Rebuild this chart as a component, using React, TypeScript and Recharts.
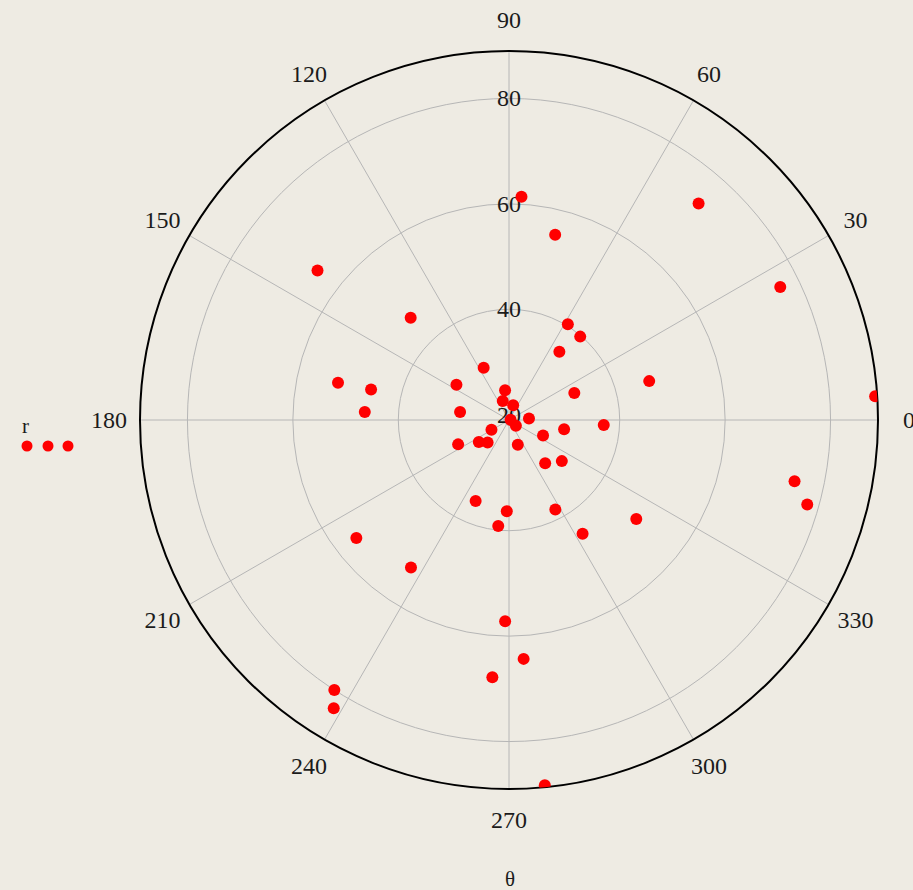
import React from 'react';
import { RadarChart, Radar, PolarGrid, PolarAngleAxis, PolarRadiusAxis } from 'recharts';

// angle (degrees, counter-clockwise from +x) of each point
const thetaDeg = [
  86.8, 48.8, 76.0, 26.1, 142.0, 133.9, 58.4, 49.5, 53.6, 167.7,
  167.5, 176.8, 15.5, 22.4, 146.2, 115.9, 3.7, 170.8, 97.5, 108.2,
  74.1, 4.5, 10.0, 320.2, 357.0, 350.4, 335.5, 205.6, 216.2, 226.5,
  208.9, 289.5, 309.9, 322.1, 347.9, 344.2, 247.6, 268.6, 264.2, 297.4,
  302.9, 322.1, 217.7, 236.4, 268.9, 273.5, 266.3, 237.1, 238.7, 275.6,
];

// radius of each point
const rValues = [
  61.4, 73.6, 55.2, 76.3, 65.1, 45.9, 40.3, 39.8, 35.1, 52.2,
  45.8, 46.4, 46.6, 32.4, 31.0, 30.0, 88.6, 28.4, 24.7, 22.8,
  21.9, 22.8, 19.3, 20.7, 37.0, 29.6, 26.1, 29.7, 26.1, 24.9,
  22.8, 24.0, 29.7, 31.7, 74.4, 77.8, 35.6, 36.3, 39.2, 38.1,
  44.7, 49.6, 55.6, 52.6, 57.2, 64.4, 67.9, 80.0, 83.0, 88.6,
];

const angleTicks = [0, 30, 60, 90, 120, 150, 180, 210, 240, 270, 300, 330];
const radiusTicks = [20, 40, 60, 80];
const radiusDomain: [number, number] = [19.2, 88.6];

const data = thetaDeg.map((t, i) => ({ theta: t, r: rValues[i] }));

const FONT = '"Liberation Serif", "Times New Roman", serif';
const BG = '#EEEBE3';
const CX = 509;
const CY = 420;
const OUTER = 369;

const AngleTick = (props: any) => {
  const { x, y, payload } = props;
  return (
    <text x={x} y={y} textAnchor="middle" dominantBaseline="central" fontFamily={FONT} fontSize={24} fill="#1b1b1b">
      {payload.value}
    </text>
  );
};

const RadiusTick = (props: any) => {
  const { x, y, payload } = props;
  return (
    <text x={x} y={y} textAnchor="middle" dominantBaseline="central" fontFamily={FONT} fontSize={24} fill="#1b1b1b">
      {payload.value}
    </text>
  );
};

const ClippedDot = (props: any) => {
  const { cx, cy, index } = props;
  if (cx == null || cy == null) return <g key={`d-${index}`} />;
  return <circle key={`d-${index}`} cx={cx} cy={cy} r={6} fill="#FF0000" clipPath="url(#polarPlotClip)" />;
};

export default function App() {
  return (
    <div style={{ position: 'absolute', left: 0, top: 0, width: 913, height: 890, background: BG, overflow: 'hidden' }}>
      <svg width={0} height={0} style={{ position: 'absolute' }}>
        <defs>
          <clipPath id="polarPlotClip" clipPathUnits="userSpaceOnUse">
            <circle cx={CX} cy={CY} r={OUTER} />
          </clipPath>
        </defs>
      </svg>
      <RadarChart
        width={913}
        height={890}
        data={data}
        cx={CX}
        cy={CY}
        outerRadius={OUTER}
        innerRadius={0}
        startAngle={0}
        endAngle={360}
        margin={{ top: 0, right: 0, bottom: 0, left: 0 }}
      >
        <PolarGrid gridType="circle" stroke="#B6B6B6" strokeWidth={1} />
        <PolarAngleAxis
          dataKey="theta"
          type="number"
          domain={[0, 360]}
          ticks={angleTicks}
          tick={AngleTick}
          tickLine={false}
          tickSize={31}
          axisLineType="circle"
          axisLine={{ stroke: '#000', strokeWidth: 2 }}
        />
        <PolarRadiusAxis
          type="number"
          angle={90}
          domain={radiusDomain}
          allowDataOverflow
          ticks={radiusTicks}
          tick={RadiusTick}
          tickLine={false}
          axisLine={false}
        />
        <Radar
          dataKey="r"
          stroke="none"
          fill="none"
          fillOpacity={0}
          isAnimationActive={false}
          dot={ClippedDot}
        />
      </RadarChart>
      <div style={{ position: 'absolute', left: 22, top: 416, fontFamily: FONT, fontSize: 21, color: '#1b1b1b', lineHeight: '20px' }}>r</div>
      <svg style={{ position: 'absolute', left: 14, top: 434 }} width={70} height={24}>
        <circle cx={13} cy={12} r={5.5} fill="#FF0000" />
        <circle cx={34} cy={12} r={5.5} fill="#FF0000" />
        <circle cx={54} cy={12} r={5.5} fill="#FF0000" />
      </svg>
      <div style={{ position: 'absolute', left: 505, top: 868, fontFamily: FONT, fontSize: 21, color: '#1b1b1b', lineHeight: '22px' }}>θ</div>
    </div>
  );
}
